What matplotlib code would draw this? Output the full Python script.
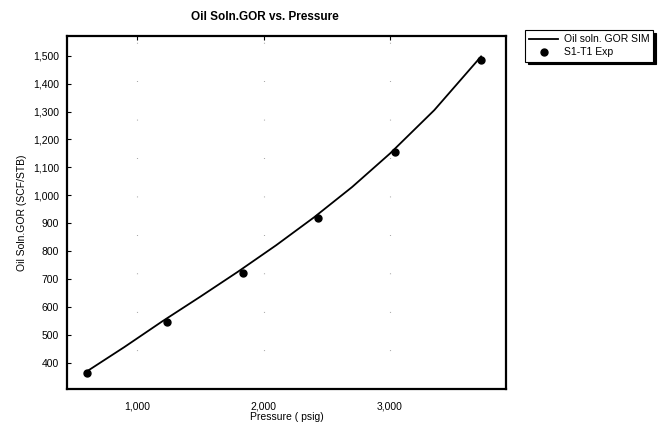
import matplotlib.pyplot as plt
from matplotlib.ticker import FuncFormatter

plt.rcParams['font.family'] = ['Liberation Sans', 'DejaVu Sans']

# simulated curve
sim_p = [600, 900, 1200, 1500, 1800, 2100, 2400, 2700, 3000, 3350, 3720]
sim_gor = [370, 458, 550, 638, 728, 822, 922, 1030, 1150, 1305, 1497]
# experimental points
exp_p = [602, 1239, 1836, 2433, 3037, 3717]
exp_gor = [366, 546, 724, 921, 1156, 1484]

xticks = [1000, 2000, 3000]
yticks = [400, 500, 600, 700, 800, 900, 1000, 1100, 1200, 1300, 1400, 1500]

fig = plt.figure(figsize=(6.62, 4.25), dpi=100)
ax = fig.add_axes([0.1017, 0.0847, 0.6627, 0.8306])

ax.plot(sim_p, sim_gor, color='black', lw=1.3, label='Oil soln. GOR SIM')
ax.plot(exp_p, exp_gor, 'o', color='black', ms=5, label='S1-T1 Exp')

ax.set_xlim(449, 3917)
ax.set_ylim(308, 1570)
ax.set_xticks(xticks)
ax.set_yticks(yticks)
fmt = FuncFormatter(lambda v, p: '{:,.0f}'.format(v))
ax.xaxis.set_major_formatter(fmt)
ax.yaxis.set_major_formatter(fmt)
ax.tick_params(axis='x', top=True, bottom=False, direction='in', length=3,
               labelsize=7.5, pad=9)
ax.tick_params(axis='y', direction='in', length=3, labelsize=7.5, pad=6)
for s in ax.spines.values():
    s.set_linewidth(1.6)

# sparse dotted grid
ax.xaxis.grid(True, color='gray', lw=0.8, linestyle=(0, (0.6, 34)))

ax.set_xlabel('Pressure ( psig)', fontsize=7.5, labelpad=0)
ax.set_ylabel('Oil Soln.GOR (SCF/STB)', fontsize=7.5, labelpad=4)
fig.text(265 / 662, 1 - 17 / 425, 'Oil Soln.GOR vs. Pressure', ha='center',
         va='center', fontsize=8.5, fontweight='bold')

leg = ax.legend(loc='upper left', bbox_to_anchor=(0.793, 0.929),
                bbox_transform=fig.transFigure, fontsize=7.5, frameon=True,
                fancybox=False, shadow={'color': 'black', 'alpha': 1},
                borderaxespad=0, handlelength=2.8, handletextpad=0.5,
                borderpad=0.4, labelspacing=0.3)
leg.get_frame().set_edgecolor('black')
leg.get_frame().set_linewidth(0.8)

plt.savefig('out.png', dpi=100)
